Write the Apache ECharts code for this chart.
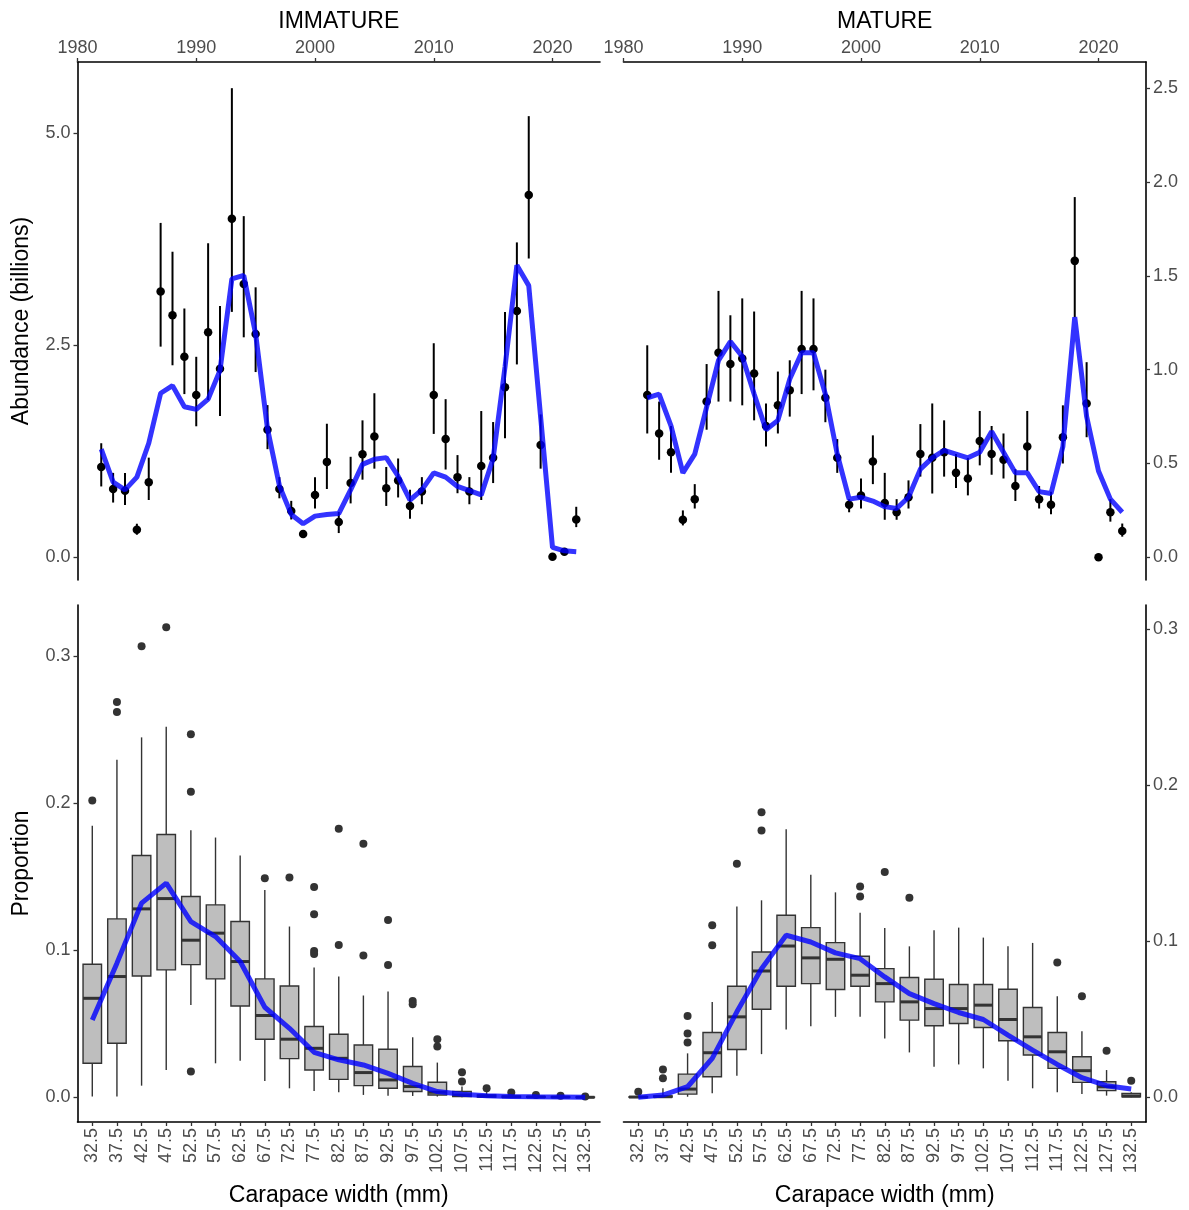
<!DOCTYPE html>
<html>
<head>
<meta charset="utf-8">
<script src="https://cdn.jsdelivr.net/npm/echarts@6/dist/echarts.min.js"></script>
<style>
html,body{margin:0;padding:0;background:#fff;}
#chart{width:1189px;height:1210px;}
</style>
</head>
<body>
<div id="chart"></div>
<script>
// ---------- DATA ----------
const years = [1982,1983,1984,1985,1986,1987,1988,1989,1990,1991,1992,1993,1994,1995,1996,1997,1998,1999,2000,2001,2002,2003,2004,2005,2006,2007,2008,2009,2010,2011,2012,2013,2014,2015,2016,2017,2018,2019,2020,2021,2022];
const yearTicks = [1980,1990,2000,2010,2020];

const immVal = [1.06,0.80,0.78,0.32,0.88,3.13,2.85,2.36,1.91,2.65,2.22,3.99,3.22,2.63,1.50,0.80,0.54,0.27,0.73,1.12,0.41,0.87,1.21,1.42,0.81,0.90,0.60,0.77,1.91,1.39,0.94,0.77,1.07,1.17,2.00,2.90,4.27,1.32,0.00,0.06,0.44];
const immLo  = [0.83,0.64,0.61,0.26,0.67,2.48,2.26,1.92,1.54,1.85,1.66,2.89,2.59,2.18,1.27,0.69,0.44,0.23,0.57,0.80,0.28,0.63,0.91,1.04,0.60,0.70,0.45,0.62,1.45,1.03,0.75,0.62,0.67,0.87,1.40,2.27,3.52,1.04,0.00,0.05,0.35];
const immHi  = [1.34,0.99,0.99,0.39,1.17,3.94,3.60,2.93,2.36,3.70,2.96,5.53,4.02,3.18,1.79,0.94,0.66,0.31,0.94,1.57,0.53,1.18,1.61,1.93,1.06,1.16,0.79,0.94,2.52,1.86,1.20,0.94,1.72,1.59,2.89,3.71,5.20,1.68,0.00,0.07,0.59];
const immFit = [1.27,0.88,0.79,0.94,1.34,1.93,2.02,1.77,1.74,1.86,2.20,3.28,3.32,2.63,1.51,0.84,0.50,0.39,0.48,0.50,0.51,0.79,1.09,1.15,1.17,0.95,0.67,0.79,0.99,0.94,0.83,0.78,0.73,1.16,2.24,3.44,3.20,1.65,0.11,0.07,0.06];

const matVal = [0.865,0.66,0.56,0.20,0.31,0.83,1.09,1.03,1.06,0.98,0.70,0.81,0.89,1.11,1.11,0.85,0.53,0.28,0.33,0.51,0.29,0.24,0.32,0.55,0.53,0.56,0.45,0.42,0.62,0.55,0.52,0.38,0.59,0.31,0.28,0.64,1.58,0.82,0.00,0.24,0.14];
const matLo  = [0.66,0.52,0.45,0.17,0.26,0.68,0.83,0.83,0.81,0.73,0.59,0.66,0.75,0.87,0.89,0.72,0.45,0.24,0.26,0.39,0.20,0.20,0.26,0.43,0.34,0.43,0.37,0.33,0.49,0.44,0.42,0.30,0.46,0.26,0.23,0.50,1.28,0.64,0.00,0.19,0.11];
const matHi  = [1.13,0.83,0.70,0.25,0.39,1.03,1.42,1.29,1.38,1.31,0.82,0.99,1.05,1.42,1.38,1.00,0.63,0.31,0.42,0.65,0.45,0.31,0.41,0.71,0.82,0.73,0.55,0.53,0.78,0.70,0.66,0.47,0.78,0.38,0.35,0.81,1.92,1.04,0.00,0.31,0.18];
const matFit = [0.85,0.87,0.70,0.45,0.55,0.80,1.05,1.15,1.07,0.87,0.68,0.73,0.95,1.09,1.09,0.87,0.55,0.31,0.32,0.30,0.27,0.26,0.32,0.47,0.53,0.57,0.55,0.53,0.56,0.67,0.56,0.45,0.45,0.35,0.34,0.59,1.28,0.75,0.46,0.31,0.24];

const widths = ['32.5','37.5','42.5','47.5','52.5','57.5','62.5','67.5','72.5','77.5','82.5','87.5','92.5','97.5','102.5','107.5','112.5','117.5','122.5','127.5','132.5'];

// [lower whisker, Q1, median, Q3, upper whisker]
const immBox = [
 [0.0005,0.0231,0.0673,0.0905,0.1846],
 [0.0005,0.0367,0.0821,0.1213,0.2295],
 [0.0079,0.0825,0.1281,0.1644,0.2447],
 [0.0186,0.0866,0.1351,0.1787,0.2519],
 [0.0628,0.0902,0.1068,0.1365,0.1816],
 [0.0231,0.0805,0.1116,0.1308,0.1766],
 [0.0249,0.0621,0.0923,0.1195,0.1644],
 [0.0111,0.0395,0.0556,0.0805,0.1410],
 [0.0061,0.0263,0.0395,0.0757,0.1161],
 [0.0043,0.0186,0.0333,0.0481,0.0882],
 [0.0034,0.0122,0.0265,0.0429,0.0821],
 [0.0016,0.0079,0.0168,0.0356,0.0692],
 [0.0011,0.0061,0.0118,0.0327,0.0719],
 [0.0009,0.0039,0.0073,0.0209,0.0408],
 [0.0005,0.0016,0.0034,0.0102,0.0236],
 [0.0000,0.0005,0.0016,0.0039,0.0073],
 [0.0000,0.0002,0.0008,0.0016,0.0035],
 [0.0000,0.0000,0.0003,0.0008,0.0018],
 [0.0000,0.0000,0.0002,0.0005,0.0010],
 [0.0000,0.0000,0.0001,0.0003,0.0006],
 [0.0000,0.0000,0.0000,0.0002,0.0004]
];
const immOutliers = [[0.2018],[0.2687,0.2619],[0.3066],[0.3195],[0.2469,0.2077,0.0175],[],[],[0.1490],[0.1494],[0.1429,0.1245,0.0995,0.0975],[0.1825,0.1036],[0.1723,0.0964],[0.1206,0.0900],[0.0655,0.0633],[0.0395,0.0345],[0.0170,0.0107],[0.0061],[0.0032],[0.0016],[0.0011],[0.0005]];
const immProp = [0.0526,0.0912,0.1320,0.1456,0.1195,0.1093,0.0923,0.0612,0.0469,0.0306,0.0255,0.0220,0.0163,0.0095,0.0039,0.0020,0.0011,0.0005,0.0003,0.0002,0.0001];

const matBox = [
 [0.0000,0.0000,0.0002,0.0004,0.0006],
 [0.0000,0.0002,0.0004,0.0009,0.0058],
 [0.0004,0.0021,0.0053,0.0149,0.0282],
 [0.0026,0.0132,0.0286,0.0416,0.0612],
 [0.0139,0.0307,0.0516,0.0712,0.1224],
 [0.0277,0.0565,0.0810,0.0932,0.1263],
 [0.0435,0.0712,0.0970,0.1167,0.1719],
 [0.0456,0.0729,0.0894,0.1088,0.1427],
 [0.0516,0.0691,0.0885,0.0992,0.1314],
 [0.0516,0.0712,0.0783,0.0904,0.1184],
 [0.0377,0.0612,0.0729,0.0825,0.1086],
 [0.0288,0.0495,0.0612,0.0768,0.0968],
 [0.0196,0.0459,0.0569,0.0757,0.1071],
 [0.0211,0.0473,0.0569,0.0723,0.1088],
 [0.0186,0.0448,0.0591,0.0723,0.1024],
 [0.0107,0.0363,0.0499,0.0693,0.0968],
 [0.0058,0.0271,0.0388,0.0576,0.0990],
 [0.0032,0.0186,0.0292,0.0416,0.0648],
 [0.0021,0.0096,0.0171,0.0260,0.0424],
 [0.0011,0.0043,0.0068,0.0100,0.0175],
 [0.0000,0.0003,0.0008,0.0025,0.0032]
];
const matOutliers = [[0.0036],[0.0179,0.0122],[0.0522,0.0409,0.0352],[0.1103,0.0975],[0.1497],[0.1828,0.1710],[],[],[],[0.1352,0.1288],[0.1444],[0.1280],[],[],[],[],[],[0.0864],[0.0648],[0.0299],[0.0107]];
const matProp = [0.0000,0.0015,0.0068,0.0250,0.0548,0.0825,0.1039,0.0996,0.0926,0.0889,0.0772,0.0665,0.0601,0.0544,0.0499,0.0399,0.0303,0.0211,0.0126,0.0075,0.0053];

const abundTicksImm = [0, 2.5, 5];
const abundTicksMat = [0, 0.5, 1, 1.5, 2, 2.5];
const propTicks = [0, 0.1, 0.2, 0.3];

// ---------- CHART ----------
const FONT = "'Liberation Sans', Arial, sans-serif";
const TICKCOL = '#4D4D4D';
const BLUE = 'rgba(0,0,255,0.8)';
const chart = echarts.init(document.getElementById('chart'), null, {renderer: 'canvas'});

const grids = [
  {left: 77.5, top: 62, width: 522.5, height: 518},
  {left: 623.5, top: 62, width: 522.5, height: 518},
  {left: 77.5, top: 605, width: 522.5, height: 517},
  {left: 623.5, top: 605, width: 522.5, height: 517}
];

const axisLine = {show: true, onZero: false, lineStyle: {color: '#000', width: 1.6}};
const axisTick = (vals) => ({show: true, length: 4, lineStyle: {color: '#333', width: 1.3}, customValues: vals});
const labelBase = {color: TICKCOL, fontSize: 18, fontFamily: FONT};
const catIdx = widths.map((w, i) => i);

function yearAxis(gi) {
  return {
    type: 'value', gridIndex: gi, position: 'top', min: 1980, max: 2024,
    axisLine: axisLine, axisTick: axisTick(yearTicks),
    axisLabel: Object.assign({}, labelBase, {customValues: yearTicks, margin: 5, formatter: v => String(v)}),
    splitLine: {show: false}
  };
}
function widthAxis(gi) {
  return {
    type: 'value', gridIndex: gi, position: 'bottom', min: -0.6, max: widths.length - 1 + 0.6,
    axisLine: axisLine, axisTick: axisTick(catIdx),
    axisLabel: Object.assign({}, labelBase, {customValues: catIdx, rotate: 90, margin: 6,
      formatter: v => widths[Math.round(v)]}),
    splitLine: {show: false}
  };
}
function valAxis(gi, pos, min, max, ticks) {
  return {
    type: 'value', gridIndex: gi, position: pos, min: min, max: max,
    axisLine: axisLine, axisTick: axisTick(ticks),
    axisLabel: Object.assign({}, labelBase, {customValues: ticks, margin: 7, formatter: v => v.toFixed(1)}),
    splitLine: {show: false}
  };
}

function errRender(params, api) {
  const x = api.value(0);
  const p1 = api.coord([x, api.value(1)]);
  const p2 = api.coord([x, api.value(2)]);
  return {type: 'line', shape: {x1: p1[0], y1: p1[1], x2: p2[0], y2: p2[1]},
          style: {stroke: '#000', lineWidth: 2}};
}
function boxRender(params, api) {
  const x = api.value(0);
  const pl = api.coord([x, api.value(1)]);
  const p1 = api.coord([x, api.value(2)]);
  const pm = api.coord([x, api.value(3)]);
  const p3 = api.coord([x, api.value(4)]);
  const ph = api.coord([x, api.value(5)]);
  const hw = api.size([0.75, 0])[0] / 2;
  const cx = pm[0];
  return {type: 'group', children: [
    {type: 'line', shape: {x1: cx, y1: pl[1], x2: cx, y2: p1[1]}, style: {stroke: '#333', lineWidth: 1.4}},
    {type: 'line', shape: {x1: cx, y1: p3[1], x2: cx, y2: ph[1]}, style: {stroke: '#333', lineWidth: 1.4}},
    {type: 'rect', shape: {x: cx - hw, y: p3[1], width: 2 * hw, height: Math.max(p1[1] - p3[1], 0.5)},
      style: {fill: '#BEBEBE', stroke: '#333', lineWidth: 1.4}},
    {type: 'line', shape: {x1: cx - hw, y1: pm[1], x2: cx + hw, y2: pm[1]}, style: {stroke: '#333', lineWidth: 3}}
  ]};
}

function tsSeries(ai, vals, lo, hi, fit) {
  return [
    {type: 'custom', xAxisIndex: ai, yAxisIndex: ai, renderItem: errRender,
     data: years.map((y, i) => [y, lo[i], hi[i]]), encode: {x: 0, y: [1, 2]}, z: 2, silent: true},
    {type: 'scatter', xAxisIndex: ai, yAxisIndex: ai, symbol: 'circle', symbolSize: 8.5,
     itemStyle: {color: '#000', opacity: 1}, data: years.map((y, i) => [y, vals[i]]), z: 3, silent: true},
    {type: 'line', xAxisIndex: ai, yAxisIndex: ai, showSymbol: false, symbol: 'none',
     lineStyle: {color: BLUE, width: 5}, data: years.map((y, i) => [y, fit[i]]), z: 4, silent: true}
  ];
}
function boxSeries(ai, boxes, outs, prop) {
  const outData = [];
  outs.forEach((arr, i) => arr.forEach(v => outData.push([i, v])));
  return [
    {type: 'custom', xAxisIndex: ai, yAxisIndex: ai, renderItem: boxRender,
     data: boxes.map((b, i) => [i].concat(b)), encode: {x: 0, y: [1, 2, 3, 4, 5]}, z: 2, silent: true},
    {type: 'scatter', xAxisIndex: ai, yAxisIndex: ai, symbol: 'circle', symbolSize: 8,
     itemStyle: {color: '#333', opacity: 1}, data: outData, z: 3, silent: true},
    {type: 'line', xAxisIndex: ai, yAxisIndex: ai, showSymbol: false, symbol: 'none',
     lineStyle: {color: BLUE, width: 5}, data: prop.map((v, i) => [i, v]), z: 4, silent: true}
  ];
}

const titleStyle = {fill: '#000', fontSize: 23, fontFamily: FONT, textAlign: 'center', textVerticalAlign: 'middle'};
function txt(text, x, y, rot) {
  return {type: 'text', x: x, y: y, rotation: rot || 0, style: Object.assign({text: text}, titleStyle)};
}

const option = {
  animation: false,
  backgroundColor: '#fff',
  grid: grids,
  xAxis: [yearAxis(0), yearAxis(1), widthAxis(2), widthAxis(3)],
  yAxis: [
    valAxis(0, 'left', -0.274, 5.839, abundTicksImm),
    valAxis(1, 'right', -0.121, 2.640, abundTicksMat),
    valAxis(2, 'left', -0.0168, 0.3347, propTicks),
    valAxis(3, 'right', -0.0158, 0.3156, propTicks)
  ],
  series: [].concat(
    tsSeries(0, immVal, immLo, immHi, immFit),
    tsSeries(1, matVal, matLo, matHi, matFit),
    boxSeries(2, immBox, immOutliers, immProp),
    boxSeries(3, matBox, matOutliers, matProp)
  ),
  graphic: [
    txt('IMMATURE', 338.75, 22),
    txt('MATURE', 884.75, 22),
    txt('Abundance (billions)', 22, 321, Math.PI / 2),
    txt('Proportion', 22, 863.5, Math.PI / 2),
    txt('Carapace width (mm)', 338.75, 1196),
    txt('Carapace width (mm)', 884.75, 1196)
  ]
};
chart.setOption(option);
</script>
</body>
</html>
